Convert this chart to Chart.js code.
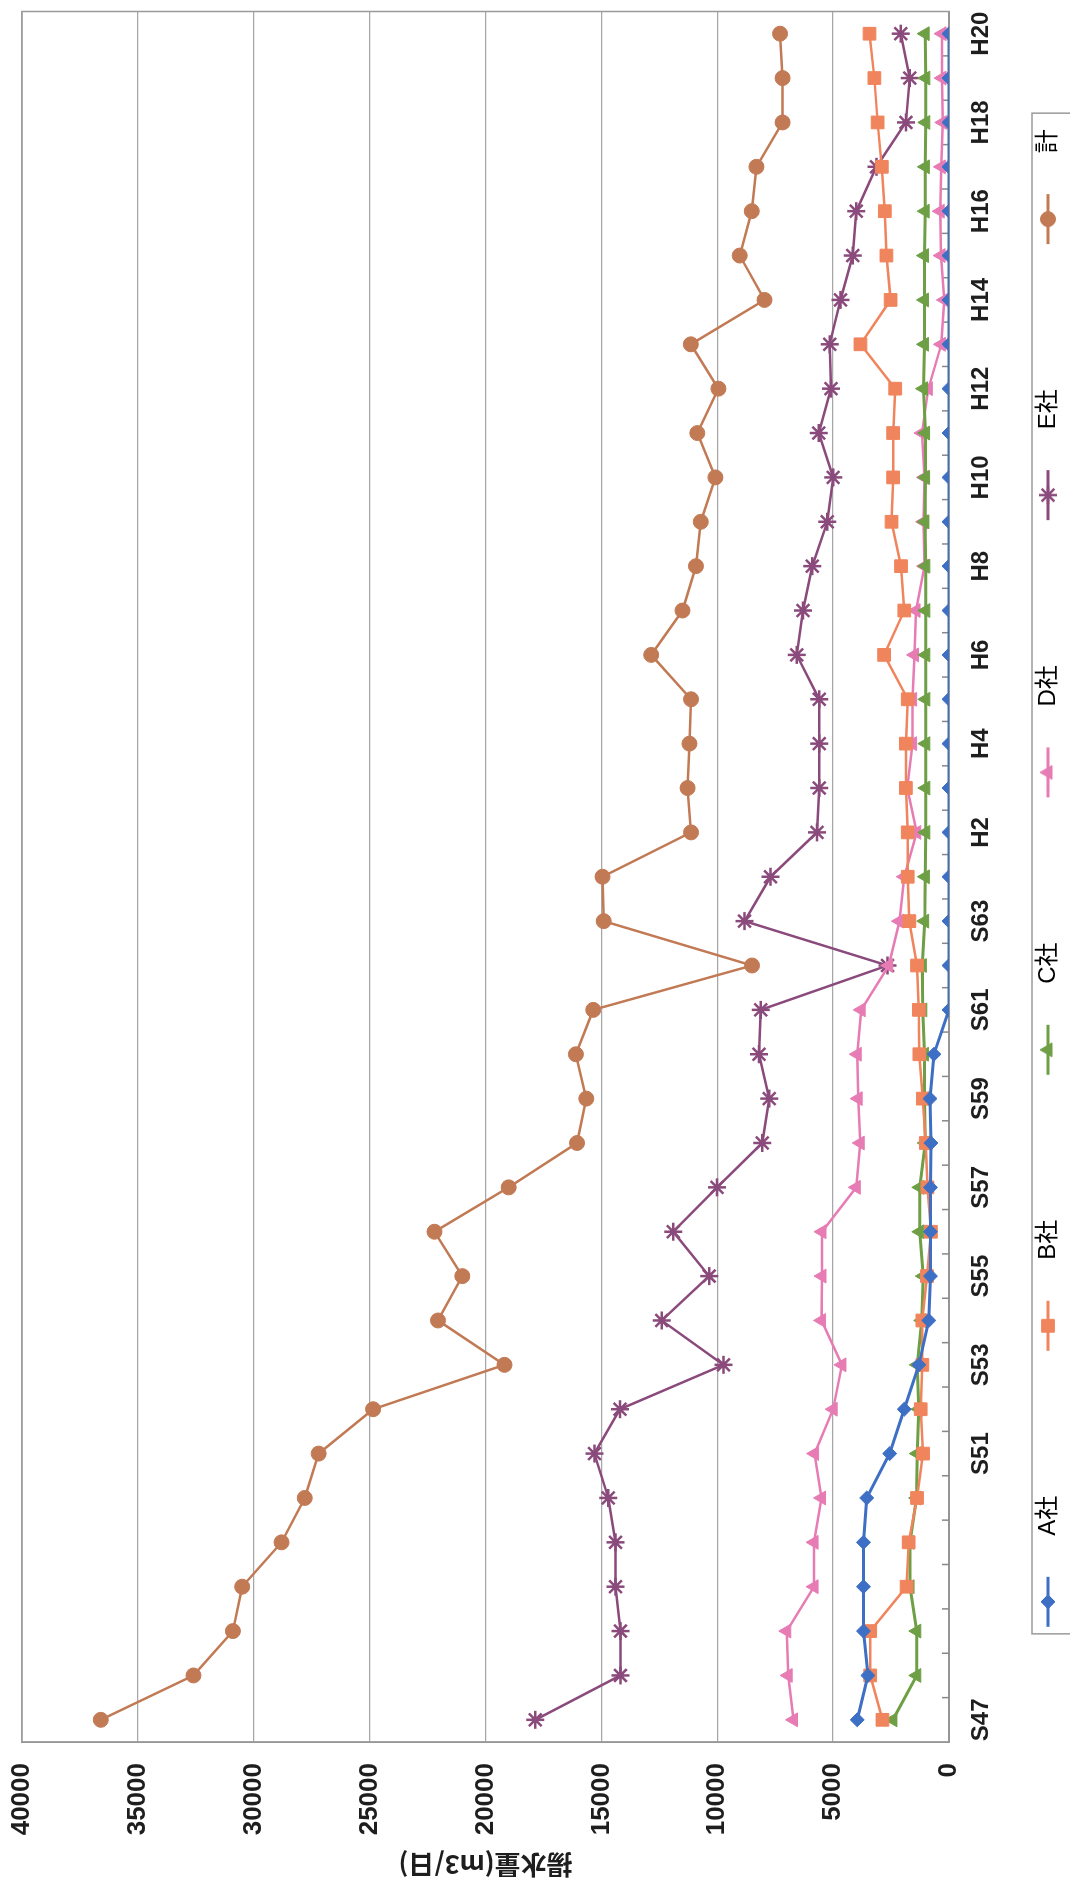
<!DOCTYPE html>
<html>
<head>
<meta charset="utf-8">
<script src="https://cdn.jsdelivr.net/npm/chart.js@4.4.1/dist/chart.umd.min.js"></script>
<style>
html, body { margin: 0; padding: 0; background: #fff; overflow: hidden; }
body { width: 1070px; height: 1884px; position: relative; }
/* the chart is drawn lying down, then turned a quarter turn to the left */
#wrap { position: absolute; left: 0; top: 0; width: 1884px; height: 1070px;
        transform-origin: 0 0; transform: translate(0px, 1884px) rotate(-90deg); }
</style>
</head>
<body>
<div id="wrap"><canvas id="chart" width="1884" height="1070"></canvas></div>
<script>
// years (labels only on every other one, like the original)
const years = [
    "S47", "", "", "", "", "",
    "S51", "S52", "S53", "S54", "S55", "S56", "S57", "S58", "S59", "S60", "S61", "S62", "S63",
    "H1", "H2", "H3", "H4", "H5", "H6", "H7", "H8", "H9", "H10",
    "H11", "H12", "H13", "H14", "H15", "H16", "H17", "H18", "H19", "H20",
];

// pumping volume per company (m3/day)
const companyA = [3960, 3500, 3690, 3690, 3690, 3550, 2560, 1930, 1300, 870, 800, 800, 800, 780, 820, 650, 0, 0, 0,
    0, 0, 0, 0, 0, 0, 0, 0, 0, 0, 0, 0, 0, 0, 0, 0, 0, 0, 0, 0];
const companyB = [2870, 3400, 3400, 1830, 1740, 1380, 1120, 1220, 1150, 1150, 950, 780, 930, 1000, 1130, 1280, 1300, 1380, 1710,
    1780, 1780, 1860, 1860, 1780, 2800, 1930, 2070, 2480, 2410, 2410, 2320, 3820, 2520, 2700, 2770, 2900, 3080, 3220, 3430];
const companyC = [2420, 1390, 1390, 1680, 1680, 1400, 1370, 1300, 1370, 1180, 1110, 1260, 1260, 1030, 1060, 1060, 1130, 1150, 1050,
    1020, 1000, 1000, 1000, 1000, 1000, 1000, 1000, 1040, 1010, 1010, 1100, 1060, 1060, 1060, 1030, 1020, 1000, 1000, 1030];
const companyD = [6710, 6940, 7000, 5820, 5820, 5500, 5800, 5000, 4620, 5500, 5480, 5480, 4000, 3830, 3920, 3960, 3790, 2600, 2140,
    1930, 1390, 1800, 1570, 1570, 1490, 1420, 1060, 1100, 1060, 1170, 890, 330, 200, 340, 380, 330, 270, 300, 300];
const companyE = [17850, 14180, 14180, 14390, 14390, 14700, 15300, 14200, 9730, 12400, 10350, 11900, 10010, 8060, 7760, 8200, 8120, 2650, 8820,
    7700, 5700, 5600, 5600, 5600, 6570, 6300, 5900, 5250, 5000, 5620, 5090, 5150, 4680, 4150, 4000, 3130, 1860, 1690, 2080];
const total = [36600, 32600, 30900, 30500, 28800, 27800, 27200, 24850, 19180, 22050, 21000, 22200, 19000, 16050, 15650, 16100, 15350, 8500, 14900,
    14950, 11130, 11280, 11200, 11130, 12850, 11500, 10920, 10710, 10080, 10860, 9950, 11140, 7960, 9030, 8510, 8310, 7180, 7180, 7290];

const yMax = 40000;
const yStep = 5000;

const FONT = '"Liberation Sans", Arial, "Noto Sans CJK JP", sans-serif';
const ICON_W = 214;
const MARK_X = 160;

function series(label, data, color, style, radius, width) {
    return {
        label: label,
        data: data,
        borderColor: color,
        backgroundColor: color,
        pointBackgroundColor: color,
        pointBorderColor: color,
        pointStyle: style,
        pointRadius: radius,
        pointBorderWidth: style === "star" ? 2.5 : 1,
        borderWidth: width,
        tension: 0,
    };
}

const datasets = [
    series("A社", companyA, "#3d6fc5", "rectRot", 7, 3),
    series("B社", companyB, "#f0845c", "rect", 9, 2.5),
    series("C社", companyC, "#6e9f45", "triangle", 8, 3),
    series("D社", companyD, "#e77cb4", "triangle", 8, 2.5),
    series("E社", companyE, "#8b4a7c", "star", 9, 2.5),
    series("計", total, "#c27a55", "circle", 7.5, 2.5),
];

// legend marks: short line with the point in the middle (Excel style)
function legendIcon(ds) {
    const c = document.createElement("canvas");
    c.width = ICON_W;
    c.height = 26;
    const g = c.getContext("2d");
    g.strokeStyle = ds.borderColor;
    g.fillStyle = ds.borderColor;
    g.lineWidth = 3;
    g.beginPath();
    g.moveTo(MARK_X - 25, 13);
    g.lineTo(MARK_X + 25, 13);
    g.stroke();
    g.lineWidth = ds.pointBorderWidth;
    if (Chart.helpers && Chart.helpers.drawPoint) {
        Chart.helpers.drawPoint(g, {pointStyle: ds.pointStyle, radius: ds.pointRadius, borderWidth: ds.pointBorderWidth, rotation: 0}, MARK_X, 13);
    } else {
        g.beginPath();
        g.arc(MARK_X, 13, ds.pointRadius, 0, Math.PI * 2);
        g.fill();
    }
    return c;
}
const icons = datasets.map(legendIcon);

// plot frame, small inner tick marks and the box round the legend
const frame = {
    id: "frame",
    beforeDatasetsDraw(chart) {
        const {ctx, chartArea: a} = chart;
        ctx.save();
        ctx.strokeStyle = "#9a9a9a";
        ctx.lineWidth = 1.5;
        ctx.strokeRect(a.left, a.top, a.right - a.left, a.bottom - a.top);
        const xs = chart.scales.x;
        const band = xs.getPixelForValue(1) - xs.getPixelForValue(0);
        ctx.strokeStyle = "#888";
        ctx.beginPath();
        for (let i = 0; i < years.length - 1; i++) {
            const x = xs.getPixelForValue(i) + band / 2;
            ctx.moveTo(x, a.bottom);
            ctx.lineTo(x, a.bottom - 7);
        }
        ctx.stroke();
        ctx.restore();
    },
    afterDraw(chart) {
        const hb = chart.legend.legendHitBoxes;
        if (!hb || !hb.length) return;
        const first = hb[0];
        const last = hb[hb.length - 1];
        const x0 = first.left + MARK_X - 32;
        const x1 = last.left + last.width + 16;
        const y0 = first.top - 4;
        const ctx = chart.ctx;
        ctx.save();
        ctx.strokeStyle = "#9a9a9a";
        ctx.lineWidth = 1.5;
        ctx.strokeRect(x0, y0, x1 - x0, chart.height - y0 + 10);
        ctx.restore();
    }
};

const config = {
    type: "line",
    data: {labels: years, datasets: datasets},
    options: {
        responsive: false,
        animation: false,
        devicePixelRatio: 1,
        layout: {padding: {top: 22, right: 7, bottom: 0, left: 0}},
        plugins: {
            tooltip: {enabled: false},
            legend: {
                position: "bottom",
                labels: {
                    usePointStyle: true,
                    pointStyleWidth: ICON_W,
                    padding: 10,
                    color: "#333",
                    font: {family: FONT, size: 24},
                    generateLabels(chart) {
                        return chart.data.datasets.map((ds, i) => ({
                            text: ds.label,
                            pointStyle: icons[i],
                            fillStyle: ds.borderColor,
                            strokeStyle: ds.borderColor,
                            lineWidth: 0,
                            hidden: false,
                            datasetIndex: i,
                        }));
                    }
                }
            }
        },
        scales: {
            x: {
                offset: true,
                grid: {display: true, drawOnChartArea: false, drawTicks: true, tickLength: 18, color: "rgba(0,0,0,0)"},
                border: {display: true, color: "#888", width: 2},
                ticks: {
                    autoSkip: false,
                    maxRotation: 0,
                    minRotation: 0,
                    padding: 0,
                    color: "#1e1e1e",
                    font: {family: FONT, size: 24, weight: "bold"},
                    callback: function(v, i) { return i % 2 === 0 ? this.getLabelForValue(v) : ""; }
                },
                afterFit: s => { s.height = 77; }
            },
            y: {
                min: 0,
                max: yMax,
                grid: {color: "#a6a6a6", lineWidth: 1.3, drawTicks: true, tickLength: 21, tickColor: "rgba(0,0,0,0)"},
                border: {display: true, color: "#888", width: 1.5},
                ticks: {
                    stepSize: yStep,
                    padding: 0,
                    color: "#1e1e1e",
                    font: {family: FONT, size: 26, weight: "bold"},
                    callback: v => String(v)
                },
                title: {
                    display: true,
                    text: "揚水量(m3/日)",
                    color: "#1e1e1e",
                    font: {family: '"Noto Sans CJK JP", sans-serif', size: 26, weight: "bold"},
                    padding: {top: 4, bottom: 4}
                },
                afterFit: s => { s.width = 142; }
            }
        }
    },
    plugins: [frame]
};

const chart = new Chart(document.getElementById("chart"), config);
</script>
</body>
</html>
